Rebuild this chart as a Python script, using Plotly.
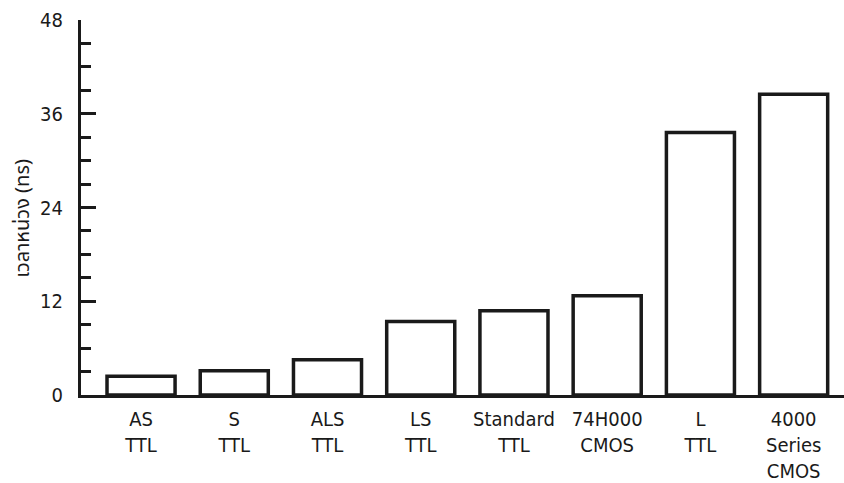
import plotly.graph_objects as go

categories = ["AS<br>TTL", "S<br>TTL", "ALS<br>TTL", "LS<br>TTL", "Standard<br>TTL",
              "74H000<br>CMOS", "L<br>TTL", "4000<br>Series<br>CMOS"]
delay_ns = [2.4, 3.1, 4.5, 9.4, 10.8, 12.7, 33.6, 38.5]
y_ticks = [0, 12, 24, 36, 48]
y_title = "เวลาหน่วง (ns)"

FONT = "DejaVu Sans Condensed, Liberation Sans Narrow, DejaVu Sans, sans-serif"
INK = "#1a1a1a"

x_pos = list(range(len(categories)))

fig = go.Figure(go.Bar(
    x=x_pos, y=delay_ns, width=0.73,
    marker=dict(color="white", line=dict(color=INK, width=3.5)),
    hoverinfo="skip",
))

fig.update_layout(
    width=844, height=483,
    margin=dict(l=81, r=0, t=20, b=88),
    paper_bgcolor="white", plot_bgcolor="white",
    showlegend=False,
    font=dict(family=FONT, size=20, color=INK),
    xaxis=dict(
        range=[-0.644, 7.54], tickvals=x_pos, ticktext=categories,
        showline=True, linecolor=INK, linewidth=3, showgrid=False,
        zeroline=False, ticks="", ticklabelstandoff=4, automargin=False,
        tickfont=dict(family=FONT, size=20, color=INK),
    ),
    yaxis=dict(
        range=[0, 48], tickvals=y_ticks, ticks="inside", ticklen=15,
        tickwidth=3, tickcolor=INK,
        minor=dict(dtick=3, ticks="inside", ticklen=10, tickwidth=2.5, tickcolor=INK),
        showline=True, linecolor=INK, linewidth=3, showgrid=False,
        zeroline=False, ticklabelstandoff=11, automargin=False,
        tickfont=dict(family=FONT, size=20, color=INK),
    ),
    annotations=[dict(
        text=y_title, textangle=-90, showarrow=False,
        xref="paper", yref="paper", x=-0.076, y=0.47,
        xanchor="center", yanchor="middle",
        font=dict(family="Noto Sans Thai, Loma, Garuda, Noto Sans, DejaVu Sans, sans-serif",
                  size=20, color=INK),
    )],
)

fig.write_html("out.html", config={"displayModeBar": False},
               post_script="document.body.style.margin='0';")
